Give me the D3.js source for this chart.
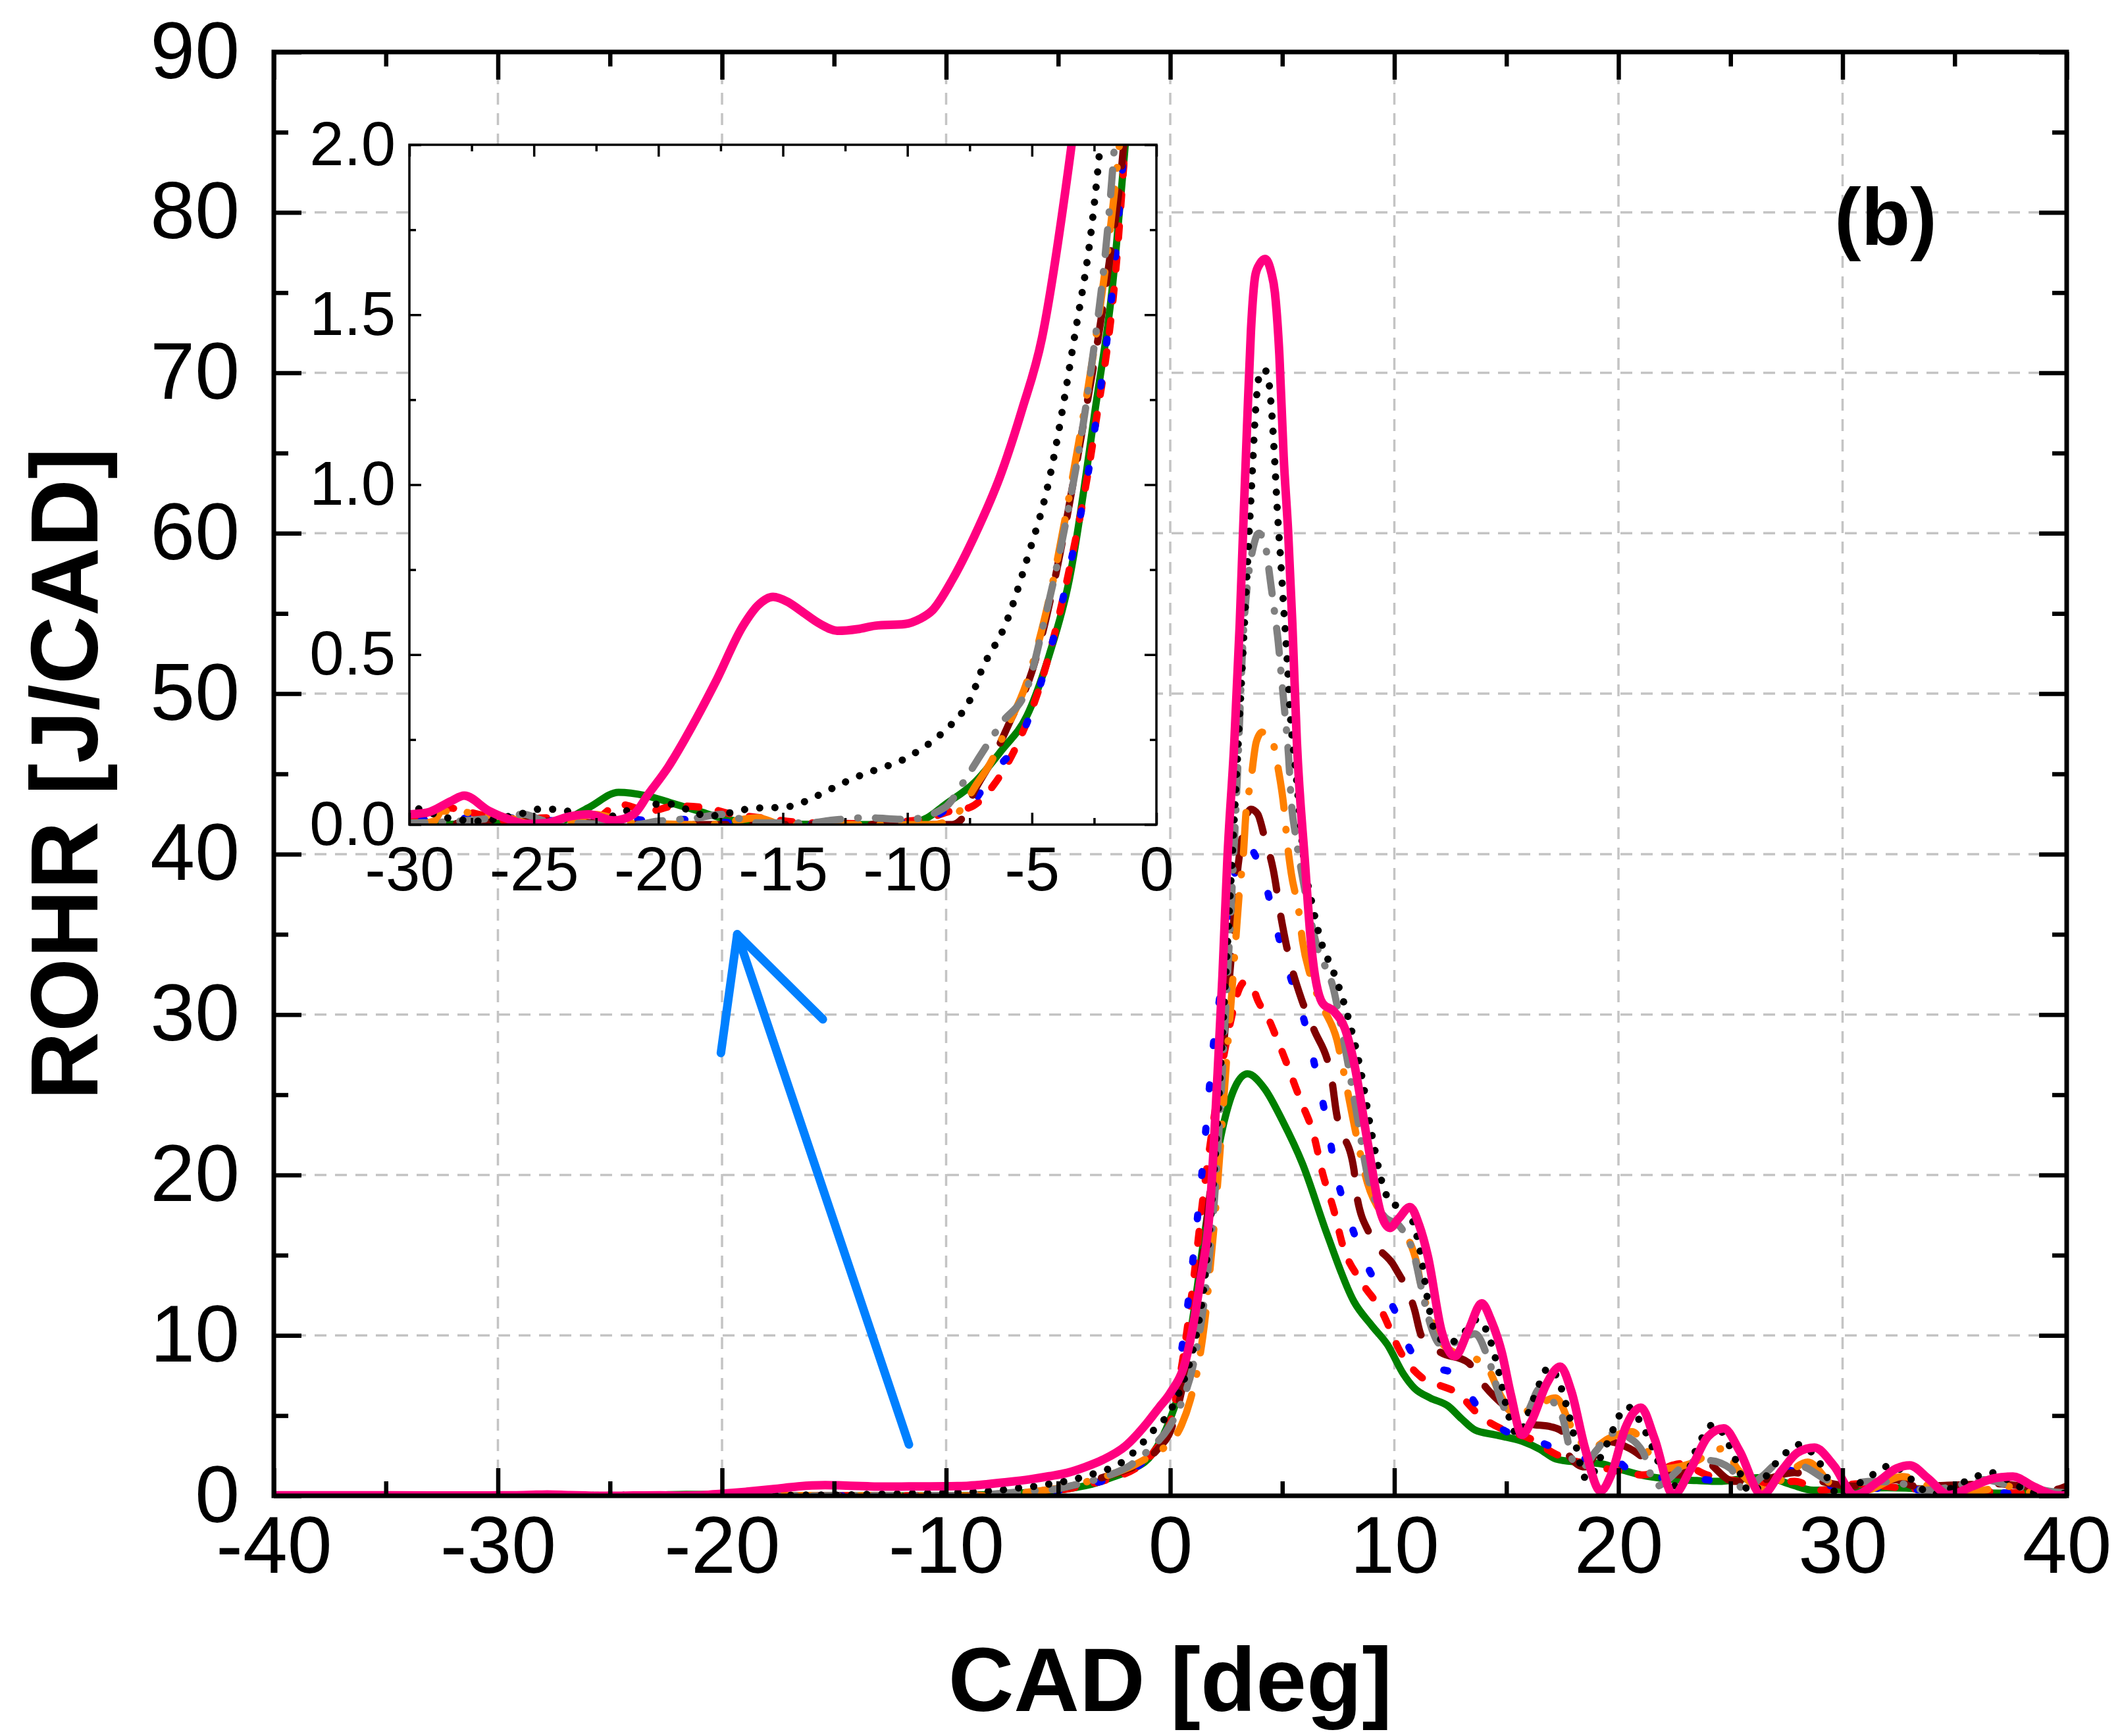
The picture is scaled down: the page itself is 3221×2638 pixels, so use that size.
<!DOCTYPE html>
<html>
<head>
<meta charset="utf-8">
<script src="https://cdn.jsdelivr.net/npm/d3@7/dist/d3.min.js"></script>
<style>
body { margin: 0; background: #fff; }
text { font-family: "Liberation Sans", Arial, sans-serif; }
</style>
</head>
<body>
<svg></svg>
<script>
// ---- data (CAD in deg, ROHR in J/CAD) ----
var cadGreen = [-40,-30,-26,-24,-22.8,-21.6,-20.5,-19.5,-18.4,-17.4,-16,-12,-10.2,-9.2,-8.5,-7.3,-6.2,-5.2,-4.3,-3.5,-2.5,-1.6,-0.8,0,0.5,1,1.5,2,2.4,2.9,3.45,4.2,5,5.9,7,8.2,9,9.7,10.4,10.9,11.6,12.4,13,13.6,14.5,15.7,16.5,17.2,18.2,19.2,20.2,21,22.2,23.5,24.5,25.5,26.6,27.7,28.7,30,32,34,36,38,40];
var rohrGreen = [0,0,0.005,0.01,0.05,0.095,0.085,0.064,0.04,0.018,0.003,0,0,0.02,0.058,0.124,0.22,0.32,0.5,0.72,1.2,1.71,2.6,4.8,7,11,16,20.5,23.3,25.5,26.3,25.4,23.4,20.7,16.3,12.1,10.6,9.4,7.6,6.7,6.1,5.6,4.8,4.1,3.8,3.4,2.9,2.3,2.1,2.0,1.6,1.3,1.05,0.95,0.9,1.05,1.15,0.7,0.35,0.4,0.5,0.4,0.2,0.15,0.1];

var cadRed = [-40,-30,-28.6,-27.2,-26,-24.5,-22.5,-21.6,-20.35,-19.3,-18.15,-17,-15.9,-14,-12,-10,-9.1,-8.25,-7.5,-6.5,-5.5,-4.5,-3.5,-2.5,-1.5,-0.7,0,0.5,1,1.5,2,2.4,2.7,3,3.3,3.64,3.9,4.43,4.7,5.1,5.8,6.4,6.8,7.3,7.7,8.5,9.4,10.3,11.2,12,12.7,13.9,14.9,16,17.2,18.5,19.8,21.1,22,22.75,23.95,25.45,26.5,27.85,29.05,30.7,32.5,34.5,36,37.4,39,40];
var rohrRed = [0,0.01,0.05,0.03,0.01,0.02,0.02,0.06,0.04,0.055,0.05,0.03,0.02,0.005,0.003,0.01,0.02,0.04,0.05,0.12,0.25,0.45,0.75,1.15,1.75,2.8,4.6,8,13,19,24,27.5,29.6,31.3,32,31.8,30.9,29.6,28.7,27.3,24.7,22.5,20.1,17.8,15.6,13.4,11.6,8.9,7.4,6.9,6.5,4.9,4.1,3.6,2.6,2.0,1.6,1.3,1.7,2.0,1.3,0.9,0.8,0.9,0.35,0.75,0.5,0.35,0.3,0.2,0.15,0.1];

var cadBlue = [-40,-30,-27,-25.2,-24,-21.5,-20.2,-19,-17,-15.5,-12,-9,-8.3,-7.5,-6.6,-5.5,-4.5,-3.5,-2.5,-1.5,-0.7,0,0.5,0.8,1.05,1.3,1.5,1.7,1.9,2.2,2.6,3,3.4,3.8,4.2,4.75,5.35,6,6.5,7,7.4,8,8.8,10,10.8,11.8,12.7,13.9,15,16.2,17.3,18.5,19.3,20.5,21.5,23,25,26.5,27.55,29,31,33,35,37,38.4,40];
var rohrBlue = [0,0.01,0.02,0.02,0.01,0.02,0.01,0.015,0.005,0,0,0.02,0.05,0.06,0.15,0.25,0.45,0.75,1.15,1.8,2.8,4.8,9,12.1,15.2,18.5,21.4,24.7,27.8,31,36,39.6,40.6,39.9,38.4,35.3,32.4,29.5,26.5,23.2,20.1,17.2,14.3,11.6,8.9,8,7.6,5.2,4,3.5,2.9,2.3,2.8,1.6,1.15,1.1,0.9,1.1,1.6,0.7,0.5,0.4,0.3,0.2,0.1,0.1];

var cadMaroon = [-40,-30,-25,-20,-15,-10,-8.2,-7.85,-7.3,-6.6,-5.9,-5,-4,-3,-2,-1.2,-0.5,0,0.5,1,1.5,2,2.5,2.8,2.9,3.2,3.6,3.9,4.2,4.6,4.95,5.2,5.87,6.4,7.2,7.4,8.2,8.3,8.9,10,10.9,11.2,12,13.3,14,15,16,17,17.5,17.8,18.5,19.4,20.5,21.5,22.75,23.65,25.15,26.05,27.85,29.05,30.5,32.35,33.25,35.5,36.9,38,39.3,40];
var rohrMaroon = [0,0,0.01,0,0,0,0,0.014,0.1,0.19,0.3,0.45,0.75,1.15,1.6,2.1,3,4,6.5,10.5,15.5,22,30,35.1,37.3,41,42.8,42.5,41.1,39,36,34.2,30.9,29.1,26,24,20.3,18.9,16.3,14.3,11.6,10,9,8.3,6.9,5.5,4.5,4.3,4,2.5,1.8,3.4,2.95,2,1.3,2.3,0.9,0.9,1.45,0.9,0.6,1,0.6,0.7,0.75,0.6,0.35,0.6];

var cadOrange = [-40,-30,-29,-28.7,-27,-26,-25,-23.5,-22.6,-21,-18,-16,-15,-9,-8.2,-7.9,-7.3,-6.6,-6.1,-5.2,-4.2,-3.3,-2.4,-1.7,-1.1,-0.5,0,0.5,0.9,1.3,1.6,1.8,2,2.25,2.5,2.7,2.9,3.1,3.25,3.38,3.58,3.84,4.1,4.43,4.82,5.08,5.2,5.4,5.74,5.9,6.26,6.8,7.44,7.8,8.3,8.8,9.5,10.2,11,11.2,11.5,12,12.7,14,14.8,15.4,16.2,17.2,17.9,18.7,19.6,20.6,21.5,22.1,23.2,24.7,25.3,26.65,27.5,28.45,29.65,31,32.65,34.75,36.3,37.3,38.5,40];
var rohrOrange = [0,0,0.01,0.04,0.03,0.02,0,0.01,0.03,0.005,0,0.02,0,0,0.02,0.04,0.11,0.19,0.27,0.42,0.7,1.05,1.45,1.85,2.3,2.8,3.3,4.4,6,8.5,11.6,14.5,17.5,22,26.9,30.5,34.2,37.9,39.7,42.6,44.4,47,47.6,47.5,45.3,42.8,41,38.8,36.4,34.6,32.4,30.5,28.4,26,22.5,19.5,17.5,16.8,14.5,13,11.6,9.8,8.9,8.3,6.1,5,5.5,6.1,4.3,2.9,3.6,4,2.4,1.7,2,2.95,1.7,0.35,1.3,2.1,0.6,0.35,1.2,0.2,0.35,0.6,0.2,0.15];

var cadGray = [-40,-30,-28,-26.5,-25.4,-24.5,-21,-20,-18.4,-17.5,-16,-14,-13,-11.7,-10,-8.5,-7.7,-7.1,-6.2,-5.2,-4.5,-3.8,-2.7,-1.9,-1,0,0.5,1,1.5,2,2.5,3,3.25,3.5,3.7,3.95,4.23,4.48,4.67,4.82,4.95,5.1,5.28,5.4,5.6,5.87,6.5,7.3,7.7,8.3,8.8,9.5,10.3,10.9,11.2,11.5,12.1,12.8,13.6,14.2,14.8,15.2,15.9,16.5,17,17.5,18,18.4,19,19.75,20.5,21.1,21.7,22.2,22.75,23.2,24,25,25.6,26.4,27.25,28.3,29.5,30.4,31.3,32.5,33.7,35,36.3,37.6,38.5,39.9,40];
var rohrGray = [0,0.005,0.01,0.02,0.03,0.01,0,0.01,0.02,0.03,0.005,0.005,0.013,0.02,0.015,0.05,0.13,0.2,0.3,0.4,0.6,0.83,1.3,1.8,2.8,4.4,5.8,8,12,19,31,45,53.4,57.5,59.1,60,59.3,56.9,54.9,53.2,51.2,49,46.1,43.3,41.1,38.8,34.5,31.5,28.7,24,20,17.5,16.7,14.9,13,11.2,9.4,9.6,10.1,8.5,5.8,4.9,5.2,6.7,6,4.9,2.1,1.8,2.8,3.9,3.6,2.7,0.6,1,1.7,2.1,2.2,1.7,0.35,1.2,2.1,1.8,0.9,0.8,0.9,0.8,0.35,0.6,1,0.6,0.45,0.2,0.2];

var cadBlack = [-40,-30,-28.5,-27.1,-26.3,-25.6,-24.8,-24,-23.2,-21.8,-21,-20.2,-19.5,-18.7,-18,-17.1,-16.2,-15.3,-14.6,-13.9,-13.2,-12.5,-11.7,-10.9,-10.2,-9.6,-9,-8.3,-7.8,-7.4,-7.1,-6,-5.2,-4.35,-3.3,-2.55,-2.2,-1.5,-0.8,0,0.5,1,1.5,2,2.5,3,3.35,3.5,3.65,3.8,3.9,4.04,4.2,4.38,4.53,4.67,4.77,4.92,5.06,5.2,5.35,5.6,6,6.33,6.72,7.3,7.8,8.2,8.5,9,9.5,10,10.35,10.8,11.2,11.5,11.8,12.4,13.2,13.7,14.3,14.7,15.1,15.5,16.2,16.9,17.4,17.8,18.6,19.4,20.4,21.2,22,22.75,23.5,24.25,25,25.9,27,28.1,29,29.8,31,32.2,33,34,35.5,36.6,37.5,38.5,40];
var rohrBlack = [0.05,0.05,0.02,0.01,0.02,0.03,0.045,0.045,0.03,0.025,0.05,0.06,0.06,0.04,0.025,0.035,0.048,0.05,0.055,0.075,0.1,0.125,0.15,0.17,0.19,0.215,0.245,0.29,0.33,0.38,0.44,0.6,0.78,1,1.43,1.79,2.05,2.9,4,5.3,6.8,9,13,21,33,46,55.4,59.5,63.5,67.5,69.2,70.1,70.2,69.6,67.5,64.3,61.6,58.5,55.4,52.5,48.8,45.2,39.3,36.9,34.6,32.6,30.5,28.4,26.5,22.5,19.3,18.1,18.3,17.2,14.9,12.1,10.3,9.5,10.3,11,9.6,7.5,5,3.8,6,8,6.9,5,1,3,5.55,4,1.5,0.5,3,4.45,3,0.2,2,3.2,2,0.1,1,1.9,1.1,0.1,0.9,1.45,0.9,0.2,0.15];

var cadPink = [-40,-35,-31,-30,-29.3,-28.3,-27.8,-26.8,-26.1,-25.3,-24.5,-23.5,-22.8,-21.8,-21,-20.4,-19.6,-18.9,-17.7,-16.6,-16,-15.4,-14.8,-14.3,-13.5,-12.8,-12,-11.3,-10.1,-9.5,-9,-8.2,-7.3,-6.25,-5.4,-4.6,-3.8,-3,-2,-1,-0.5,0,0.7,1.3,1.8,2.1,2.33,2.55,2.86,3.1,3.25,3.42,3.6,3.8,4,4.23,4.5,4.67,4.87,5.06,5.26,5.45,5.65,6,6.3,6.8,7.3,7.8,8.2,8.8,9.4,9.8,10.2,10.7,11.1,11.5,12.1,12.7,13.3,13.9,14.3,14.8,15.2,15.7,16.1,16.8,17.4,17.9,18.5,19.2,19.7,20.3,21,21.6,22.45,23.2,24,24.7,25.4,26.4,27.3,28,28.75,29.6,30.55,31.6,32.4,33,33.8,34.75,35.8,36.8,37.6,38.5,39.6,40];
var rohrPink = [0.03,0.03,0.02,0.03,0.035,0.07,0.085,0.04,0.018,0.002,0.005,0.025,0.03,0.012,0.03,0.09,0.17,0.256,0.42,0.585,0.645,0.67,0.655,0.63,0.59,0.57,0.575,0.585,0.59,0.605,0.63,0.72,0.85,1.03,1.22,1.43,1.79,2.25,3.1,4.6,5.5,6.4,8.5,13,18.5,26,32.4,39.7,47,54.3,60.1,66.4,72.6,76.1,76.8,77.1,76.3,75,71.1,64.8,60.1,54.3,47,39.7,34.2,30.7,30.2,29.1,27,22.1,17.6,16.7,17.3,18,16.9,14.9,10.3,8.7,10.3,12,11,8.9,6.3,3.8,4.6,7,8.05,6.5,3,0.3,1.4,4.2,5.5,3.6,0.05,1.6,3.7,4.2,2.8,0.05,1.6,2.7,3,1.9,0.05,0.9,1.7,1.9,1.1,0.05,0.6,1.1,1.2,0.6,0.02,0.02];

// tick values and grid
var xTicksMain = [-40,-30,-20,-10,0,10,20,30,40];
var xMinorMain = [-35,-25,-15,-5,5,15,25,35];
var yTicksMain = [0,10,20,30,40,50,60,70,80,90];
var yMinorMain = [5,15,25,35,45,55,65,75,85];
var xGrid = [-30,-20,-10,0,10,20,30];
var yGrid = [10,20,30,40,50,60,70,80];
var xTicksInset = [-30,-25,-20,-15,-10,-5,0];
var xMinorInset = [-27.5,-22.5,-17.5,-12.5,-7.5,-2.5];
var yTicksInset = [0,0.5,1.0,1.5,2.0];
var yMinorInset = [0.25,0.75,1.25,1.75];

// annotation arrow (data coords)
var arrowHeadX = [-20.05,-19.32,-15.5];
var arrowHeadY = [27.6,35.0,29.7];
var arrowShaftX = [-11.66,-19.32];
var arrowShaftY = [3.2,35.0];

var series = [
  {x: cadGreen,  y: rohrGreen,  color: "#008000", width: 11, dash: null},
  {x: cadRed,    y: rohrRed,    color: "#ff0000", width: 11, dash: "18 30"},
  {x: cadBlue,   y: rohrBlue,   color: "#0000ff", width: 11, dash: "6 60"},
  {x: cadMaroon, y: rohrMaroon, color: "#800000", width: 11, dash: "50 40"},
  {x: cadOrange, y: rohrOrange, color: "#ff8000", width: 11, dash: "62 32 1 32"},
  {x: cadGray,   y: rohrGray,   color: "#808080", width: 11, dash: "38 26 1 26"},
  {x: cadBlack,  y: rohrBlack,  color: "#000000", width: 11, dash: "0.1 23"},
  {x: cadPink,   y: rohrPink,   color: "#ff0080", width: 13, dash: null}
];

var W = 3221, H = 2638;
var svg = d3.select("svg").attr("width", W).attr("height", H);
svg.append("rect").attr("width", W).attr("height", H).attr("fill", "#fff");

var box = {left: 416, right: 3140, top: 79, bottom: 2273};
var ibox = {left: 622, right: 1757, top: 220, bottom: 1253};

var xScale = d3.scaleLinear().domain([-40, 40]).range([box.left, box.right]);
var yScale = d3.scaleLinear().domain([0, 90]).range([box.bottom, box.top]);
var xIn = d3.scaleLinear().domain([-30, 0]).range([ibox.left, ibox.right]);
var yIn = d3.scaleLinear().domain([0, 2]).range([ibox.bottom, ibox.top]);

var defs = svg.append("defs");
defs.append("clipPath").attr("id", "clipMain").append("rect")
  .attr("x", box.left).attr("y", box.top)
  .attr("width", box.right - box.left).attr("height", box.bottom - box.top);
defs.append("clipPath").attr("id", "clipInset").append("rect")
  .attr("x", ibox.left).attr("y", ibox.top)
  .attr("width", ibox.right - ibox.left).attr("height", ibox.bottom - ibox.top);

// grid
var grid = svg.append("g")
  .attr("stroke", "#c4c4c4")
  .attr("stroke-width", 3.5)
  .attr("stroke-dasharray", "18 13");
grid.selectAll(".gx").data(xGrid).enter().append("line")
  .attr("x1", d => xScale(d)).attr("x2", d => xScale(d))
  .attr("y1", box.top).attr("y2", box.bottom);
grid.selectAll(".gy").data(yGrid).enter().append("line")
  .attr("y1", d => yScale(d)).attr("y2", d => yScale(d))
  .attr("x1", box.left).attr("x2", box.right);

function drawCurves(g, xs, ys) {
  var line = d3.line()
    .x(d => xs(d[0]))
    .y(d => ys(d[1]))
    .curve(d3.curveMonotoneX);
  series.forEach(function(s) {
    var pts = s.x.map((v, i) => [v, s.y[i]]);
    g.append("path")
      .datum(pts)
      .attr("d", line)
      .attr("fill", "none")
      .attr("stroke", s.color)
      .attr("stroke-width", s.width)
      .attr("stroke-linecap", "round")
      .attr("stroke-linejoin", "round")
      .attr("stroke-dasharray", s.dash);
  });
}

// arrow
var arrowLine = d3.line().x(d => xScale(d[0])).y(d => yScale(d[1]));
var arrow = svg.append("g")
  .attr("fill", "none")
  .attr("stroke", "#0080ff")
  .attr("stroke-width", 13)
  .attr("stroke-linecap", "round")
  .attr("stroke-linejoin", "round");
arrow.append("path").attr("d", arrowLine(arrowHeadX.map((v, i) => [v, arrowHeadY[i]])));
arrow.append("path").attr("d", arrowLine(arrowShaftX.map((v, i) => [v, arrowShaftY[i]])));

var mainCurves = svg.append("g").attr("clip-path", "url(#clipMain)");
drawCurves(mainCurves, xScale, yScale);

// inset
svg.append("rect")
  .attr("x", ibox.left).attr("y", ibox.top)
  .attr("width", ibox.right - ibox.left).attr("height", ibox.bottom - ibox.top)
  .attr("fill", "#fff");
var insetCurves = svg.append("g").attr("clip-path", "url(#clipInset)");
drawCurves(insetCurves, xIn, yIn);

function frame(b, xs, ys, o) {
  var g = svg.append("g");
  function styleAxis(a, withText) {
    a.select(".domain").remove();
    a.selectAll("line").attr("stroke", "#000").attr("stroke-width", o.tickW);
    a.attr("font-size", o.font).attr("font-family", null);
    a.selectAll("text").attr("fill", "#000");
    if (!withText) a.selectAll("text").remove();
  }
  var sides = [
    {axis: d3.axisBottom, t: "translate(0," + b.bottom + ")", sc: xs, maj: o.xMaj, min: o.xMin, fmt: o.xFmt, pad: o.xPad, txt: true},
    {axis: d3.axisTop, t: "translate(0," + b.top + ")", sc: xs, maj: o.xMaj, min: o.xMin, fmt: o.xFmt, pad: 0, txt: false},
    {axis: d3.axisLeft, t: "translate(" + b.left + ",0)", sc: ys, maj: o.yMaj, min: o.yMin, fmt: o.yFmt, pad: o.yPad, txt: true},
    {axis: d3.axisRight, t: "translate(" + b.right + ",0)", sc: ys, maj: o.yMaj, min: o.yMin, fmt: o.yFmt, pad: 0, txt: false}
  ];
  sides.forEach(function(s) {
    var a = g.append("g").attr("transform", s.t)
      .call(s.axis(s.sc).tickValues(s.maj).tickSize(-o.major).tickSizeOuter(0)
        .tickPadding(s.pad).tickFormat(s.fmt));
    styleAxis(a, s.txt);
    var m = g.append("g").attr("transform", s.t)
      .call(s.axis(s.sc).tickValues(s.min).tickSize(-o.minor).tickSizeOuter(0).tickFormat(""));
    styleAxis(m, false);
  });
  g.append("rect")
    .attr("x", b.left).attr("y", b.top)
    .attr("width", b.right - b.left).attr("height", b.bottom - b.top)
    .attr("fill", "none").attr("stroke", "#000").attr("stroke-width", o.frameW);
}

frame(ibox, xIn, yIn, {
  xMaj: xTicksInset, xMin: xMinorInset, yMaj: yTicksInset, yMin: yMinorInset,
  xFmt: d => String(d), yFmt: d => d.toFixed(1),
  major: 18, minor: 10, tickW: 3.5, frameW: 3.5, font: 94, xPad: 33, yPad: 21
});

frame(box, xScale, yScale, {
  xMaj: xTicksMain, xMin: xMinorMain, yMaj: yTicksMain, yMin: yMinorMain,
  xFmt: d => String(d), yFmt: d => String(d),
  major: 42, minor: 22, tickW: 6.5, frameW: 7, font: 122, xPad: 30, yPad: 52
});

// titles
svg.append("text")
  .attr("x", (box.left + box.right) / 2)
  .attr("y", 2600)
  .attr("text-anchor", "middle")
  .attr("font-size", 138)
  .attr("font-weight", "bold")
  .text("CAD [deg]");

svg.append("text")
  .attr("transform", "translate(148," + ((box.top + box.bottom) / 2) + ") rotate(-90)")
  .attr("text-anchor", "middle")
  .attr("font-size", 144)
  .attr("font-weight", "bold")
  .text("ROHR [J/CAD]");

svg.append("text")
  .attr("x", 2865)
  .attr("y", 372)
  .attr("text-anchor", "middle")
  .attr("font-size", 122)
  .attr("font-weight", "bold")
  .text("(b)");
</script>
</body>
</html>
